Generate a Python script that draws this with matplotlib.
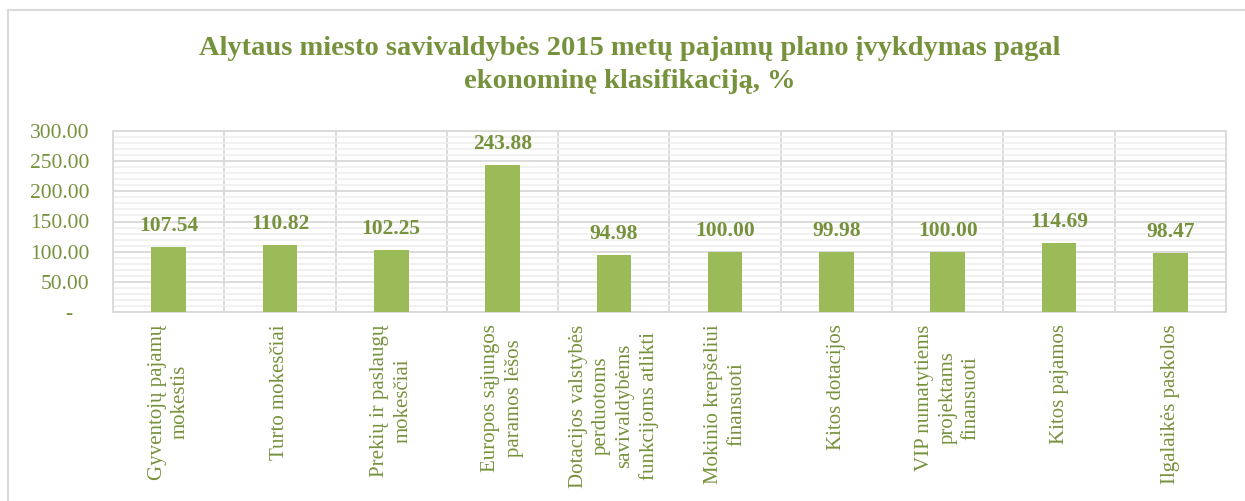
import matplotlib
matplotlib.use("Agg")
import matplotlib.pyplot as plt
from matplotlib.lines import Line2D
from matplotlib.ticker import MultipleLocator, FixedLocator

categories = [
    "Gyventojų pajamų\nmokestis",
    "Turto mokesčiai",
    "Prekių ir paslaugų\nmokesčiai",
    "Europos sąjungos\nparamos lėšos",
    "Dotacijos valstybės\nperduotoms\nsavivaldybėms\nfunkcijoms atlikti",
    "Mokinio krepšeliui\nfinansuoti",
    "Kitos dotacijos",
    "VIP numatytiems\nprojektams\nfinansuoti",
    "Kitos pajamos",
    "Ilgalaikės paskolos",
]
values = [107.54, 110.82, 102.25, 243.88, 94.98, 100.00, 99.98, 100.00, 114.69, 98.47]
yticks = [0, 50, 100, 150, 200, 250, 300]
ytick_labels = ["-   ", "50.00", "100.00", "150.00", "200.00", "250.00", "300.00"]
title = "Alytaus miesto savivaldybės 2015 metų pajamų plano įvykdymas pagal\nekonominę klasifikaciją, %"

GREEN_TXT = "#76923c"
BAR = "#9bbb59"
GRID = "#d9d9d9"
MINOR = "#efefef"

plt.rcParams["font.family"] = ["Liberation Serif", "DejaVu Serif"]

fig = plt.figure(figsize=(12.45, 5.01), dpi=100)
W, H = 1245, 501
ax = fig.add_axes([113 / W, 1 - 312 / H, (1226 - 113) / W, (312 - 131) / H])

x = list(range(len(categories)))
ax.bar(x, values, width=0.31, color=BAR, zorder=3)

ax.set_xlim(-0.5, len(categories) - 0.5)
ax.set_ylim(0, 300)

# horizontal grid
ax.yaxis.set_major_locator(FixedLocator(yticks))
ax.yaxis.set_minor_locator(MultipleLocator(10))
ax.set_yticklabels(ytick_labels)
ax.grid(axis="y", which="minor", color=MINOR, lw=1.2, zorder=0)
ax.grid(axis="y", which="major", color=GRID, lw=1.3, zorder=1)
# vertical separators between categories
for b in [i - 0.5 for i in range(len(categories) + 1)]:
    ax.axvline(b, color=GRID, lw=1.3, zorder=1)

for s in ax.spines.values():
    s.set_color(GRID)
    s.set_linewidth(1.3)

ax.set_xticks(x)
ax.set_xticklabels(categories, rotation=90, ha="center", va="top",
                   multialignment="center", fontsize=15, color=GREEN_TXT,
                   linespacing=1.3)
ax.tick_params(axis="x", length=0, pad=9)
ax.tick_params(axis="y", which="both", length=0, pad=17, labelsize=15.5, labelcolor=GREEN_TXT)

for xi, v in zip(x, values):
    ax.annotate(f"{v:.2f}", xy=(xi, v), xytext=(0, 16), textcoords="offset pixels",
                ha="center", va="baseline", fontsize=15.5, fontweight="bold",
                color=GREEN_TXT, zorder=4)

fig.text(0.506, 1 - 65 / H, title, ha="center", va="center", fontsize=20.5,
         fontweight="bold", color=GREEN_TXT, linespacing=1.4)

# outer chart border (top and left visible)
fig.add_artist(Line2D([8 / W, 1.0], [1 - 10 / H, 1 - 10 / H], color=GRID, lw=1.5,
                      transform=fig.transFigure))
fig.add_artist(Line2D([8 / W, 8 / W], [1 - 10 / H, 0], color=GRID, lw=1.5,
                      transform=fig.transFigure))

fig.savefig("out.png", dpi=100, facecolor="white")
